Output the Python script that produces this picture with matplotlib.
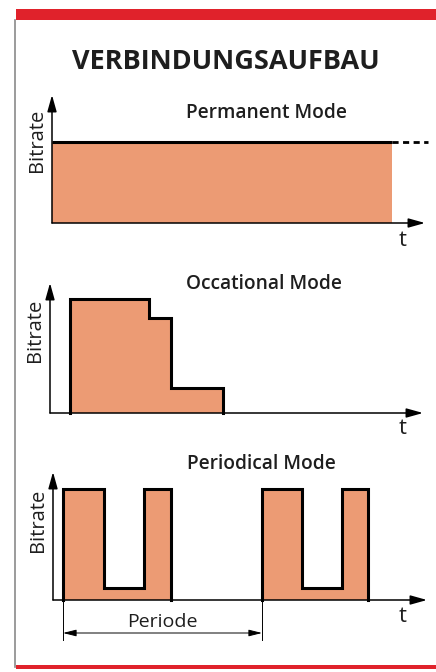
import numpy as np
import matplotlib.pyplot as plt
from matplotlib.patches import Rectangle
from matplotlib.lines import Line2D

plt.rcParams['font.family'] = ['Open Sans', 'DejaVu Sans']

# Daten (Zeit / Bitrate, beliebige Einheiten)
perm_ende = 17.0
perm_strich = 18.8
perm_rate = 4.05

occ_zeiten = [1.0, 4.95, 6.05, 8.65]
occ_raten = [5.7, 4.75, 1.25]

per_zeiten = [0.5, 2.55, 4.55, 5.9, 10.45, 12.45, 14.45, 15.75]
per_raten = [5.55, 0.6, 5.55, 0, 5.55, 0.6, 5.55]
periode = [0.5, 10.45]

titel = "VERBINDUNGSAUFBAU"
modi = ["Permanent Mode", "Occational Mode", "Periodical Mode"]

fuell = "#ec9b74"
text_farbe = "#1e1e1e"
W, H = 436, 672
px = 20.0  # Pixel pro Einheit


def achse(fig, x0, y0, ytop, ybot):
    ax = fig.add_axes([0, 1 - ybot / H, 1, (ybot - ytop) / H])
    ax.set_xlim(-x0 / px, (W - x0) / px)
    ax.set_ylim((y0 - ybot) / px, (y0 - ytop) / px)
    ax.axis('off')
    return ax


def pfeile(ax, xmax, ymax):
    kw = dict(arrowstyle='-|>,head_length=1.0,head_width=0.28', color='black',
              lw=1.1, shrinkA=0, shrinkB=0)
    ax.annotate("", xy=(xmax, 0), xytext=(0, 0), arrowprops=kw)
    ax.annotate("", xy=(0, ymax), xytext=(0, 0), arrowprops=kw)


def umriss(zeiten, raten):
    xs = [zeiten[0]]
    ys = [0]
    for i, r in enumerate(raten):
        xs += [zeiten[i], zeiten[i + 1]]
        ys += [r, r]
    xs.append(zeiten[-1])
    ys.append(0)
    return xs, ys


fig = plt.figure(figsize=(W / 100, H / 100), dpi=100)

# Rahmen
fig.add_artist(Rectangle((16 / W, 1 - 20 / H), 1 - 16 / W, 11 / H,
                         transform=fig.transFigure, color='#e0222b', lw=0))
fig.add_artist(Rectangle((16 / W, 1 - 669 / H), 1 - 16 / W, 4 / H,
                         transform=fig.transFigure, color='#e0222b', lw=0))
fig.add_artist(Line2D([15 / W, 15 / W], [1 - 20 / H, 1 - 667 / H],
                      transform=fig.transFigure, color='#8a8a8a', lw=1.2))
fig.text(226 / W, 1 - 62 / H, titel, ha='center', va='center',
         fontsize=19.5, fontweight='bold', color=text_farbe)

# Permanent Mode
ax1 = achse(fig, 52, 223, 88, 258)
ax1.fill_between([0, perm_ende], 0, perm_rate, color=fuell, lw=0)
ax1.plot([0, perm_ende], [perm_rate, perm_rate], color='black', lw=2.2,
         solid_capstyle='butt')
ax1.plot([perm_ende, perm_strich], [perm_rate, perm_rate], color='black',
         lw=2, dashes=(2.2, 1.6))
pfeile(ax1, 18.65, 6.4)
ax1.text(10.7, 5.5, modi[0], ha='center', va='center', fontsize=13.8,
         fontweight='semibold', color=text_farbe)

# Occational Mode
ax2 = achse(fig, 50, 413, 262, 442)
xs, ys = umriss(occ_zeiten, occ_raten)
ax2.fill_between(occ_zeiten, 0, occ_raten + [occ_raten[-1]], step='post',
                 color=fuell, lw=0)
ax2.plot(xs, ys, color='black', lw=2.2, solid_joinstyle='miter')
pfeile(ax2, 18.65, 6.5)
ax2.text(10.7, 6.45, modi[1], ha='center', va='center', fontsize=13.8,
         fontweight='semibold', color=text_farbe)

# Periodical Mode
ax3 = achse(fig, 53, 600, 444, 660)
for a, b in [(0, 4), (4, 8)]:
    z = per_zeiten[a:b]
    r = per_raten[a:b - 1]
    ax3.fill_between(z, 0, r + [r[-1]], step='post', color=fuell, lw=0)
    xs, ys = umriss(z, r)
    ax3.plot(xs, ys, color='black', lw=2.2, solid_joinstyle='miter')
pfeile(ax3, 18.7, 6.4)
ax3.text(10.4, 6.8, modi[2], ha='center', va='center', fontsize=13.8,
         fontweight='semibold', color=text_farbe)
for p in periode:
    ax3.plot([p, p], [0, -2.0], color='black', lw=0.7)
ax3.annotate("", xy=(periode[1], -1.65), xytext=(periode[0], -1.65),
             arrowprops=dict(arrowstyle='<|-|>,head_length=0.8,head_width=0.2',
                             color='black', lw=0.7, shrinkA=0, shrinkB=0))
ax3.text(np.mean(periode), -1.1, "Periode", ha='center', va='center',
         fontsize=14, color=text_farbe)

# Achsenbeschriftungen
for ax, yb, yt, xt in [(ax1, 4.15, -0.85, 17.55), (ax2, 4.15, -0.75, 17.65),
                       (ax3, 4.0, -0.85, 17.5)]:
    ax.text(-0.75, yb, "Bitrate", rotation=90, ha='center', va='center',
            fontsize=14.5, color=text_farbe)
    ax.text(xt, yt, "t", ha='center', va='center', fontsize=16,
            color=text_farbe)

plt.savefig("out.png", dpi=100)
